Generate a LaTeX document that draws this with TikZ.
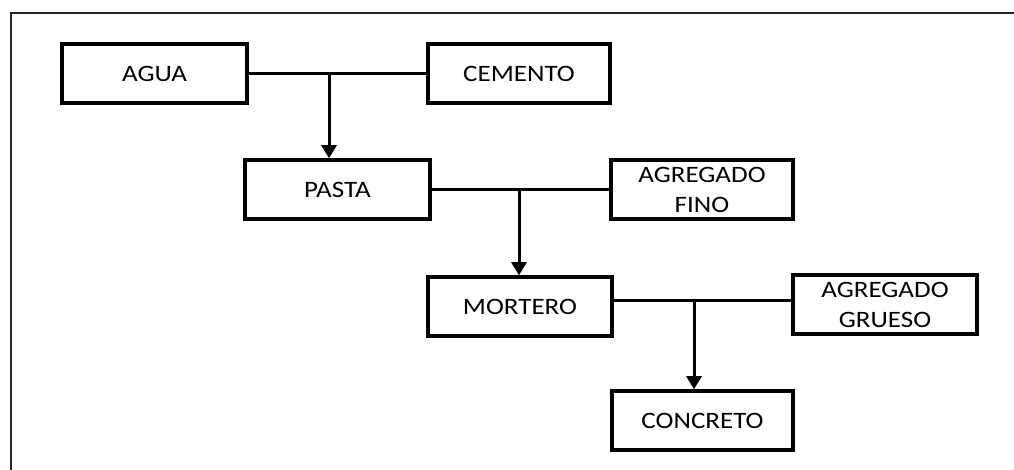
\documentclass[tikz,border=0pt]{standalone}
\usepackage{fontspec}
\setmainfont{Carlito}[FakeStretch=1.15]
\usetikzlibrary{arrows.meta}
\begin{document}
\begin{tikzpicture}[x=1pt,y=-1pt,
  box/.style={draw=black,line width=3.6pt,minimum height=59pt,inner sep=0pt,
    align=center,font=\fontsize{23.5}{30}\selectfont,text=black},
  link/.style={draw=black,line width=3pt},
  arr/.style={link,-{Triangle[width=15pt,length=13pt]}},
  frame/.style={draw=black!85,line width=2.2pt}]
\useasboundingbox (0,0) rectangle (1014,470);
\draw[frame] (11,470) -- (11,13) -- (1014,13);
\node[box,minimum width=185pt] (agua) at (154.5,73.5) {AGUA};
\node[box,minimum width=182pt] (cemento) at (519,73.5) {CEMENTO};
\node[box,minimum width=185pt] (pasta) at (337.5,189.5) {PASTA};
\node[box,minimum width=182pt] (fino) at (702,189.5) {AGREGADO\\FINO};
\node[box,minimum width=184pt] (mortero) at (520,306.5) {MORTERO};
\node[box,minimum width=184pt] (grueso) at (885,304.5) {AGREGADO\\GRUESO};
\node[box,minimum width=181pt] (concreto) at (702.5,420.5) {CONCRETO};
\coordinate (j1) at (329,74);
\coordinate (j2) at (519,189.5);
\coordinate (j3) at (694,300);
\draw[link] (agua.east) -- (cemento.west);
\draw[arr] (j1) -- (j1 |- pasta.north);
\draw[link] (pasta.east) -- (fino.west);
\draw[arr] (j2) -- (j2 |- mortero.north);
\draw[link] (mortero.east |- j3) -- (grueso.west |- j3);
\draw[arr] (j3) -- (j3 |- concreto.north);
\end{tikzpicture}
\end{document}
